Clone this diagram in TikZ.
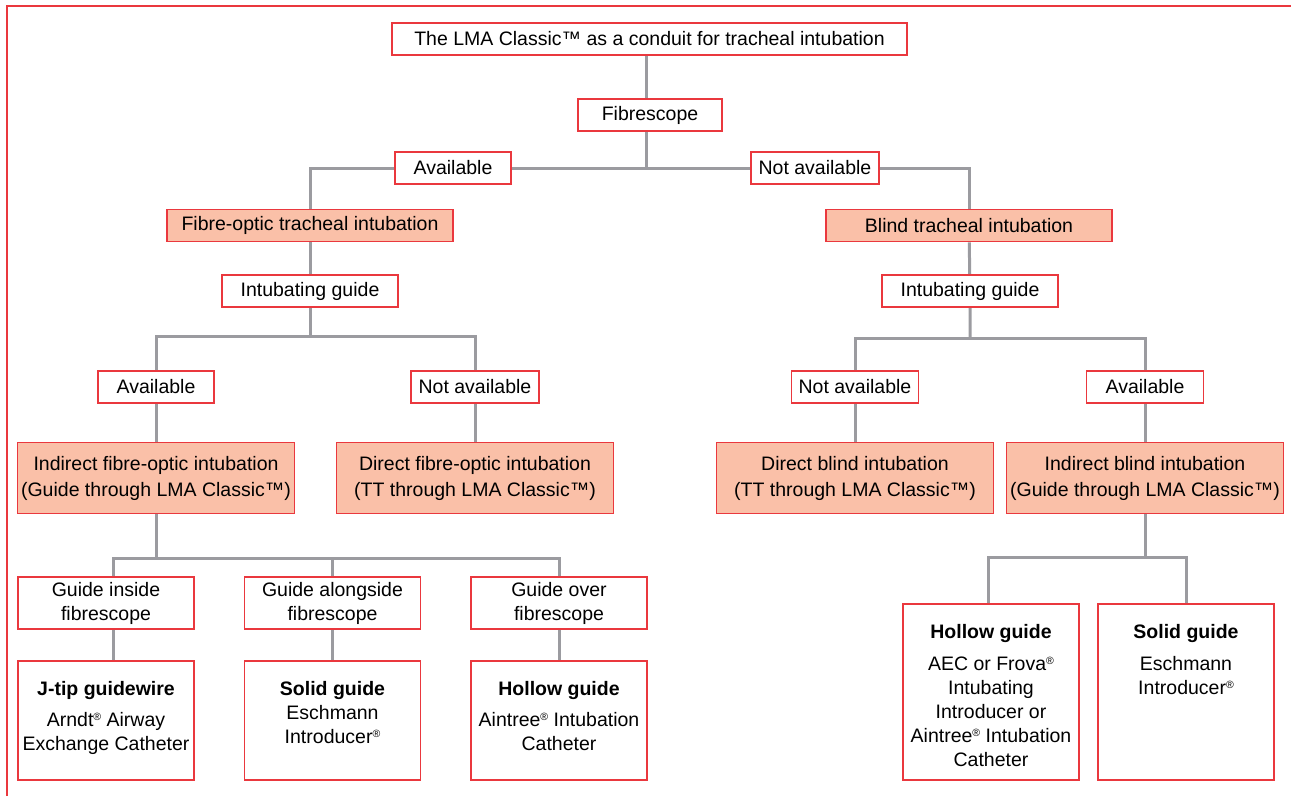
\documentclass[tikz,border=0pt]{standalone}
\usepackage{fontspec}
\setmainfont{Liberation Sans}
\usetikzlibrary{backgrounds}

\definecolor{lmared}{RGB}{234,56,62}
\definecolor{lmafill}{RGB}{250,192,168}
\definecolor{lmagrey}{RGB}{155,155,160}
\newcommand{\guidetext}[3]{\parbox[c][#2][t]{#1}{\centering\vspace*{20.5pt}#3}}
\newcommand{\regmark}{\raisebox{5.5pt}{\fontsize{10.5}{10.5}\selectfont ®}}

\begin{document}
\begin{tikzpicture}[x=1pt, y=-1pt,
    every node/.style={font=\fontsize{19.5}{24}\selectfont},
    box/.style={draw=lmared, line width=1.6pt, fill=white, inner sep=0pt,
                minimum height=32pt, align=center},
    hit/.style={box, fill=lmafill},
    twoline/.style={font=\fontsize{19.5}{26}\selectfont, minimum height=71pt, minimum width=277pt},
    guide/.style={box, minimum height=52pt, minimum width=176pt},
    link/.style={draw=lmagrey, line width=3pt}]
    \useasboundingbox (0,0) rectangle (1291,796);
    \draw [lmared, line width=1.5pt] (7,796) -- (7,6) -- (1291,6);
    % Top Row (conduit and fibrescope)
    \node [box, minimum width=515pt] (title) at (649.5,39) {The LMA Classic™ as a conduit for tracheal intubation};
    \node [box, minimum width=144pt] (fib) at (650,115) {Fibrescope};
    \node [box, minimum width=116pt] (availt) at (453,168) {Available};
    \node [box, minimum width=128pt] (navailt) at (815,168) {Not available};
    % Second Row (fibre-optic / blind)
    \node [hit, minimum width=286pt] (fto) at (310,225.5) {Fibre-optic tracheal intubation};
    \node [hit, minimum width=286pt] (blind) at (969,225.5) {Blind tracheal intubation};
    \node [box, minimum width=176pt] (igl) at (310,291) {Intubating guide};
    \node [box, minimum width=176pt] (igr) at (970,291) {Intubating guide};
    % Third Row (guide available or not)
    \node [box, minimum width=116pt] (availl) at (156,387) {Available};
    \node [box, minimum width=128pt] (navl) at (475,387) {Not available};
    \node [box, minimum width=127pt] (navr) at (855,387) {Not available};
    \node [box, minimum width=117pt] (avr) at (1145,387) {Available};
    % Fourth Row (direct / indirect)
    \node [hit, twoline] (ifo) at (156,478) {Indirect fibre-optic intubation\\(Guide through LMA Classic™)};
    \node [hit, twoline] (dfo) at (475,478) {Direct fibre-optic intubation\\(TT through LMA Classic™)};
    \node [hit, twoline] (dbl) at (855,478) {Direct blind intubation\\(TT through LMA Classic™)};
    \node [hit, twoline] (ibl) at (1145,478) {Indirect blind intubation\\(Guide through LMA Classic™)};
    % Guide Row (left)
    \node [guide] (gin) at (106,603) {Guide inside\\fibrescope};
    \node [guide] (galong) at (332.5,603) {Guide alongside\\fibrescope};
    \node [guide] (gover) at (559,603) {Guide over\\fibrescope};
    % Bottom Row (devices)
    \node [box, anchor=north] (jtip) at (106,660) {\guidetext{176pt}{119pt}{\textbf{J-tip guidewire}\\[7pt]Arndt\regmark{} Airway\\Exchange Catheter}};
    \node [box, anchor=north] (solidl) at (332.5,660) {\guidetext{176pt}{119pt}{\textbf{Solid guide}\\Eschmann\\Introducer\regmark}};
    \node [box, anchor=north] (hollowl) at (559,660) {\guidetext{176pt}{119pt}{\textbf{Hollow guide}\\[7pt]Aintree\regmark{} Intubation\\Catheter}};
    \node [box, anchor=north] (hollowr) at (991,603) {\guidetext{176pt}{176pt}{\textbf{Hollow guide}\\[8pt]AEC or Frova\regmark\\Intubating\\Introducer or\\Aintree\regmark{} Intubation\\Catheter}};
    \node [box, anchor=north] (solidr) at (1186,603) {\guidetext{176pt}{176pt}{\textbf{Solid guide}\\[8pt]Eschmann\\Introducer\regmark}};
    % junctions
    \coordinate (jt) at (646,168);
    \coordinate (jl) at (310,336);
    \coordinate (jr) at (970,338);
    \coordinate (jb) at (156,558);
    \coordinate (jbr) at (1145,557);
    \begin{scope}[on background layer]
      \draw [link] ([xshift=-3.5pt]title.center) -- (jt);
      \draw [link] (fto) |- (jt) -| (blind);
      \draw [link] (fto) -- (igl) -- (jl);
      \draw [link] (blind) -- (igr) -- (jr);
      \draw [link] (availl) |- (jl) -| (navl);
      \draw [link] (navr) |- (jr) -| (avr);
      \draw [link] (availl) -- (ifo);
      \draw [link] (navl) -- (dfo);
      \draw [link] (navr) -- (dbl);
      \draw [link] (avr) -- (ibl);
      \draw [link] (ifo) -- (jb);
      \draw [link] ([xshift=7pt]gin.center) |- (jb) -| (gover);
      \draw [link] (galong) -- (galong |- jb);
      \draw [link] ([xshift=7pt]gin.center) -- ([xshift=7pt]jtip.center);
      \draw [link] (galong) -- (solidl);
      \draw [link] (gover) -- (hollowl);
      \draw [link] (ibl) -- (jbr);
      \draw [link] ([xshift=-3pt]hollowr.center) |- (jbr) -| (solidr);
    \end{scope}
\end{tikzpicture}
\end{document}
